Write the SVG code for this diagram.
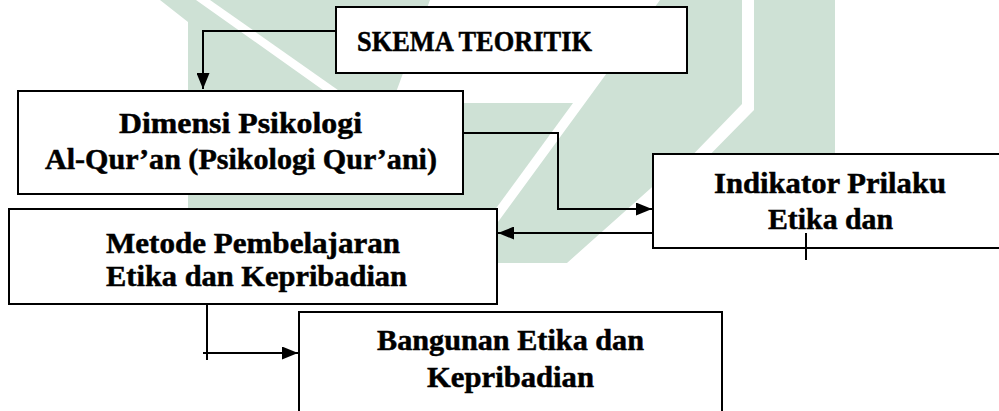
<svg xmlns="http://www.w3.org/2000/svg" width="999" height="411" viewBox="0 0 999 411">
  <defs>
    <style>
      .wm { fill: #cee1d5; }
      .wmw { fill: #ffffff; }
      .box { fill: #ffffff; stroke: #000000; stroke-width: 2; }
      .lbl { font-family: "Liberation Serif", "DejaVu Serif", serif; font-weight: bold; font-size: 30px; fill: #000000; stroke: #000000; stroke-width: 0.5; text-anchor: middle; }
      .conn { fill: none; stroke: #000000; stroke-width: 2; }
    </style>
    <marker id="arr" markerUnits="userSpaceOnUse" markerWidth="16" markerHeight="13" refX="16" refY="6.5" orient="auto">
      <path d="M0,0 L16,6.5 L0,13 Z" fill="#000000"/>
    </marker>
  </defs>
  <rect x="0" y="0" width="999" height="411" fill="#ffffff"/>
  <g id="watermark">
    <polygon class="wm" points="160,0 196,0 330,95 245,95 245,263 188,263 188,22"/>
    <polygon class="wm" points="210,0 430,0 395,95 345,95"/>
    <polygon class="wm" points="245,103 573,103 456,263 245,263"/>
    <polygon class="wm" points="585,103 660,0 835,0 835,160 660,180 567,263 468,263"/>
    <polygon class="wmw" points="742,0 754,0 754,110 690,175 680,168 742,104"/>
  </g>
  <g id="node-skema">
    <rect class="box" x="336" y="7" width="351" height="66"/>
    <text class="lbl" x="474.5" y="51" textLength="235" lengthAdjust="spacingAndGlyphs">SKEMA TEORITIK</text>
  </g>
  <g id="node-dimensi">
    <rect class="box" x="18" y="91" width="445" height="103"/>
    <text class="lbl" x="240.5" y="133" textLength="243" lengthAdjust="spacingAndGlyphs">Dimensi Psikologi</text>
    <text class="lbl" x="241" y="169" textLength="392" lengthAdjust="spacingAndGlyphs">Al-Qur’an (Psikologi Qur’ani)</text>
  </g>
  <g id="node-indikator">
    <rect class="box" x="653" y="154" width="360" height="94"/>
    <text class="lbl" x="830" y="193" textLength="232" lengthAdjust="spacingAndGlyphs">Indikator Prilaku</text>
    <text class="lbl" x="830.5" y="229" textLength="125" lengthAdjust="spacingAndGlyphs">Etika dan</text>
  </g>
  <g id="node-metode">
    <rect class="box" x="9" y="209" width="488" height="95"/>
    <text class="lbl" x="253" y="253" textLength="294" lengthAdjust="spacingAndGlyphs">Metode Pembelajaran</text>
    <text class="lbl" x="256.5" y="286" textLength="301" lengthAdjust="spacingAndGlyphs">Etika dan Kepribadian</text>
  </g>
  <g id="node-bangunan">
    <rect class="box" x="299" y="312" width="423" height="110"/>
    <text class="lbl" x="510.5" y="350" textLength="267" lengthAdjust="spacingAndGlyphs">Bangunan Etika dan</text>
    <text class="lbl" x="510.5" y="387" textLength="167" lengthAdjust="spacingAndGlyphs">Kepribadian</text>
  </g>
  <g id="connectors">
    <path class="conn" d="M336,31 H203 V89" marker-end="url(#arr)"/>
    <path class="conn" d="M463,133 H558 V209 H652" marker-end="url(#arr)"/>
    <path class="conn" d="M653,233 H498" marker-end="url(#arr)"/>
    <path class="conn" d="M207,304 V360"/>
    <path class="conn" d="M203,353 H298" marker-end="url(#arr)"/>
    <path class="conn" d="M806,233 V260"/>
  </g>
</svg>
